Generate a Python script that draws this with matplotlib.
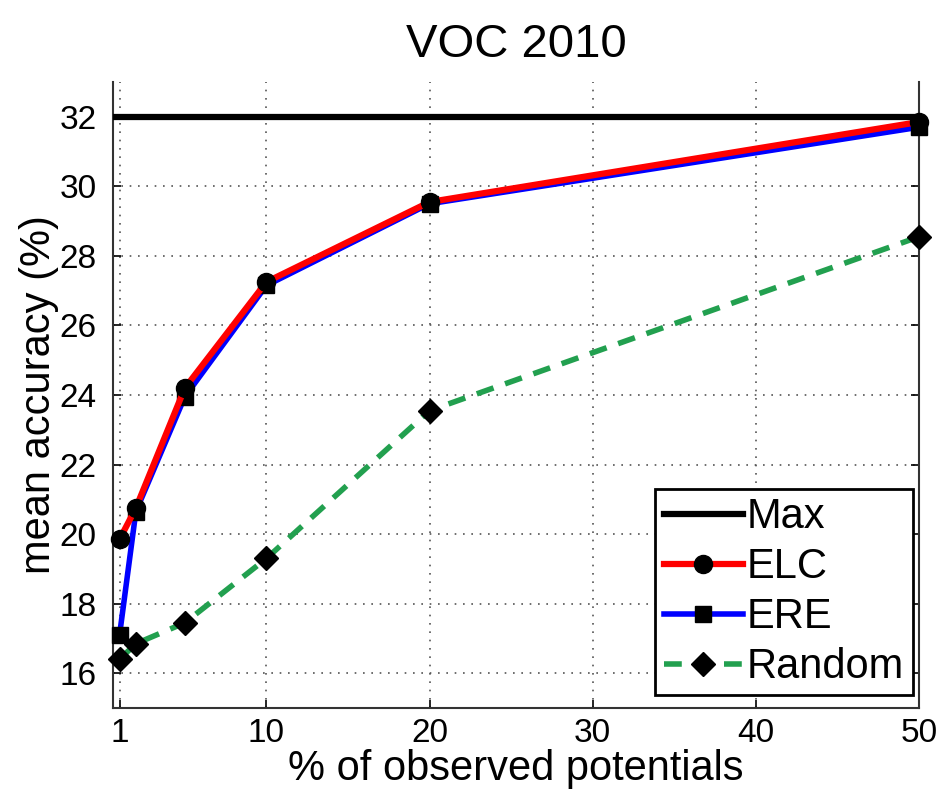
import matplotlib.pyplot as plt

# observed-potential percentages and mean accuracy per method
pct_observed = [1, 2, 5, 10, 20, 50]
max_acc = [32, 32]
max_x = [0.6, 50]
elc_acc = [19.85, 20.75, 24.2, 27.25, 29.55, 31.85]
ere_acc = [17.1, 20.65, 23.95, 27.15, 29.5, 31.7]
random_acc = [16.4, 16.85, 17.45, 19.3, 23.55, 28.55]

x_ticks = [1, 10, 20, 30, 40, 50]
y_ticks = [16, 18, 20, 22, 24, 26, 28, 30, 32]

plt.rcParams["font.family"] = ["Liberation Sans", "DejaVu Sans"]

fig = plt.figure(figsize=(9.38, 7.94), dpi=100)
ax = fig.add_axes([0.1205, 0.1083, 0.8592, 0.7884])

ax.plot(pct_observed, random_acc, color="#22a04f", lw=4, ls=(0, (3.2, 2.2)),
        marker="D", ms=12, mfc="black", mec="black", label="Random",
        zorder=3, clip_on=False)
ax.plot(pct_observed, ere_acc, color="#0000ff", lw=4,
        marker="s", ms=12, mfc="black", mec="black", label="ERE",
        zorder=4, clip_on=False)
ax.plot(pct_observed, elc_acc, color="#ff0000", lw=4.5,
        marker="o", ms=13, mfc="black", mec="black", label="ELC",
        zorder=5, clip_on=False)
ax.plot(max_x, max_acc, color="black", lw=4.5, label="Max", zorder=6)

ax.set_xlim(0.6, 50)
ax.set_ylim(15, 33)
ax.set_xticks(x_ticks)
ax.set_yticks(y_ticks)
ax.tick_params(axis="both", direction="in", labelsize=24, length=6, width=1.2,
               right=True)
ax.tick_params(axis="y", pad=12)
ax.tick_params(axis="x", pad=7)
ax.grid(True, ls=(0, (1, 4)), color="#555555", lw=1.2)

ax.spines["top"].set_visible(False)
for side in ["left", "bottom", "right"]:
    ax.spines[side].set_linewidth(1.5)
    ax.spines[side].set_color("#333333")

ax.set_title("VOC 2010", fontsize=34, pad=18)
ax.set_xlabel("% of observed potentials", fontsize=30, labelpad=0)
ax.set_ylabel("mean accuracy (%)", fontsize=30, labelpad=0)

handles, labels = ax.get_legend_handles_labels()
order = [3, 2, 1, 0]
leg = ax.legend([handles[i] for i in order], [labels[i] for i in order],
                loc="lower right", bbox_to_anchor=(0.992, 0.02),
                fontsize=30, fancybox=False, framealpha=1,
                edgecolor="black", handlelength=1.9, handletextpad=0.1,
                borderpad=0.2, labelspacing=0.24, borderaxespad=0.0)
leg.get_frame().set_linewidth(2)

fig.savefig("out.png", dpi=100)
